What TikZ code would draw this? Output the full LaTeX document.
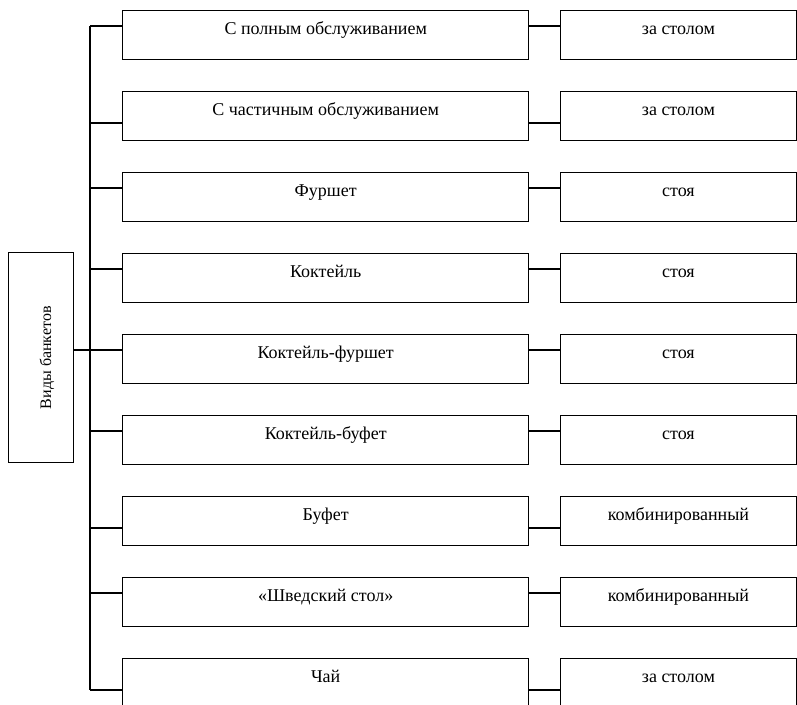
\documentclass[tikz,border=0pt]{standalone}
\usepackage{fontspec}
\setmainfont{Liberation Serif}
\usetikzlibrary{positioning}
\begin{document}
\begin{tikzpicture}[x=1pt,y=1pt,line width=1.2pt,
	box/.style={draw, rectangle, inner xsep=0pt, inner ysep=0pt, text height=24pt, text depth=24.5pt, anchor=north, font=\fontsize{18}{21}\selectfont},
	midbox/.style={box, minimum width=406pt},
	endbox/.style={box, minimum width=236pt}]
		\useasboundingbox (0,0) rectangle (797,-704);
		% left block
		\node[draw, rectangle, rotate=90, minimum width=210pt, minimum height=65pt, inner sep=0pt, text height=20pt, text depth=0pt, font=\fontsize{16}{19}\selectfont] (types) at (41.2,-357.7) {Виды банкетов};
		% rows
		\foreach \i/\kind/\place/\off in {1/{С полным обслуживанием}/{за столом}/16,
				2/{С частичным обслуживанием}/{за столом}/32,
				3/{Фуршет}/{стоя}/16,
				4/{Коктейль}/{стоя}/16,
				5/{Коктейль-фуршет}/{стоя}/16,
				6/{Коктейль-буфет}/{стоя}/16,
				7/{Буфет}/{комбинированный}/32,
				8/{«Шведский стол»}/{комбинированный}/16,
				9/{Чай}/{за столом}/32}{
			\node[midbox] (kind\i) at (325.7,{-10-81*(\i-1)}) {\kind};
			\node[endbox] (place\i) at (678.4,{-10-81*(\i-1)}) {\place};
			\coordinate (fork\i) at (90,{-10-81*(\i-1)-\off});
			\draw (fork\i) -- (fork\i -| kind\i.west);
			\draw (kind\i.east |- fork\i) -- (place\i.west |- fork\i);
		}
		\draw (fork1) -- (fork9);
		\draw (types.south |- fork5) -- (fork5);
	\end{tikzpicture}
\end{document}
